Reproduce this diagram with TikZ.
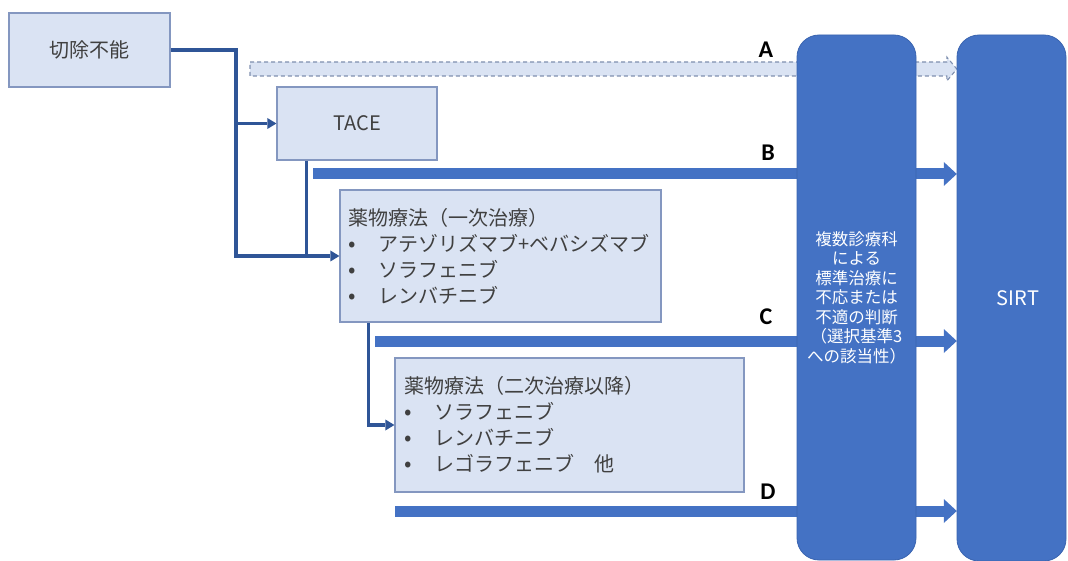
\documentclass[tikz,border=0pt]{standalone}
\usepackage{fontspec}
\setmainfont{Noto Sans CJK JP}
\newfontfamily\labfont{Carlito}
\usetikzlibrary{arrows.meta,calc}
\definecolor{lightfill}{HTML}{DAE3F3}
\definecolor{lightdraw}{HTML}{8497C0}
\definecolor{dashdraw}{HTML}{7F8FAF}
\definecolor{midblue}{HTML}{4472C4}
\definecolor{edgeblue}{HTML}{3A64B0}
\definecolor{darkblue}{HTML}{2F5597}
\definecolor{txt}{HTML}{404040}
\newcommand\bulletitem{\makebox[30pt][l]{\raisebox{0pt}{\fontsize{22}{26}\selectfont •}}}
\begin{document}
\begin{tikzpicture}[x=1pt,y=-1pt,
 lbox/.style={draw=lightdraw, fill=lightfill, line width=1.2pt, text=txt, inner sep=0pt},
 conn/.style={draw=darkblue, line width=3.2pt},
 connarrow/.style={conn, -{Triangle[width=11pt,length=9pt,line width=0pt]}},
 bar/.style={draw=midblue, line width=11pt, -{Triangle[width=24pt,length=13pt,line width=0pt]}},
 dasharrow/.style={draw=dashdraw, fill=lightfill, line width=1.1pt, dash pattern=on 4pt off 3pt},
 bigbox/.style={fill=midblue, draw=edgeblue, line width=0.8pt, rounded corners=22pt, text=white, inner sep=0pt},
 lab/.style={font=\labfont\bfseries\fontsize{24}{24}\selectfont, text=black, inner sep=0pt},
]
\useasboundingbox (0,0) rectangle (1068,561);

% start points of the route bars
\coordinate (a0) at (250,69);
\coordinate (b0) at (313,174);
\coordinate (c0) at (375,341);
\coordinate (d0) at (395,511);

% big box positions
\path (856.5,297.5) coordinate (midc);
\path (1011.5,298) coordinate (sirtc);
\node[minimum width=109pt, minimum height=526pt, inner sep=0pt] (sirtref) at (sirtc) {};

% route A (dashed)
\path[dasharrow] ($(a0)+(0,-7)$) -- ($(a0 -| sirtref.west)+(-10,-7)$) -- ++(0,-5)
  -- (a0 -| sirtref.west) -- ++(-10,12) -- ++(0,-5) -- ($(a0)+(0,7)$) -- cycle;

% routes B, C, D
\draw[bar] (b0) -- (b0 -| sirtref.west);
\draw[bar] (c0) -- (c0 -| sirtref.west);
\draw[bar] (d0) -- (d0 -| sirtref.west);

% route labels
\node[lab] (la) at (766,50) {A};
\node[lab] (lb) at (768,153) {B};
\node[lab] (lc) at (766,317) {C};
\node[lab] (ld) at (768,492) {D};

% big boxes
\node[bigbox, minimum width=119pt, minimum height=525pt, align=center,
      font=\fontsize{16.5}{19.5}\selectfont] (mid) at (midc)
  {複数診療科\\による\\標準治療に\\不応または\\不適の判断\\（選択基準3\\への該当性）};
\node[bigbox, minimum width=109pt, minimum height=526pt,
      font=\fontsize{20}{24}\selectfont] (sirt) at (sirtc) {\hspace*{13pt}SIRT};

% light boxes
\node[lbox, minimum width=161pt, minimum height=74pt, font=\fontsize{20}{24}\selectfont]
  (cut) at (89.5,50) {切除不能};
\node[lbox, minimum width=160pt, minimum height=73pt, font=\fontsize{20}{24}\selectfont]
  (tace) at (357,123.5) {TACE};
\node[lbox, minimum width=321pt, minimum height=132pt, text width=305pt, align=left,
      font=\fontsize{20}{26}\selectfont] (drug1) at (500.5,256)
  {薬物療法（一次治療）\\\bulletitem アテゾリズマブ+ベバシズマブ\\\bulletitem ソラフェニブ\\\bulletitem レンバチニブ};
\node[lbox, minimum width=349pt, minimum height=134pt, text width=331pt, align=left,
      font=\fontsize{20}{26}\selectfont] (drug2) at (569.5,425)
  {薬物療法（二次治療以降）\\\bulletitem ソラフェニブ\\\bulletitem レンバチニブ\\\bulletitem レゴラフェニブ　他};

% connectors
\coordinate (j1) at (236,50);
\coordinate (t1) at ([xshift=30pt]tace.south west);
\coordinate (d1) at ([xshift=29pt]drug1.south west);
\draw[connarrow] (cut.east) -- (j1) |- (drug1.west);
\draw[connarrow] (j1 |- tace.west) -- (tace.west);
\draw[conn] (t1) -- (t1 |- drug1.west);
\draw[connarrow] (d1) |- (drug2.west);
\end{tikzpicture}
\end{document}
